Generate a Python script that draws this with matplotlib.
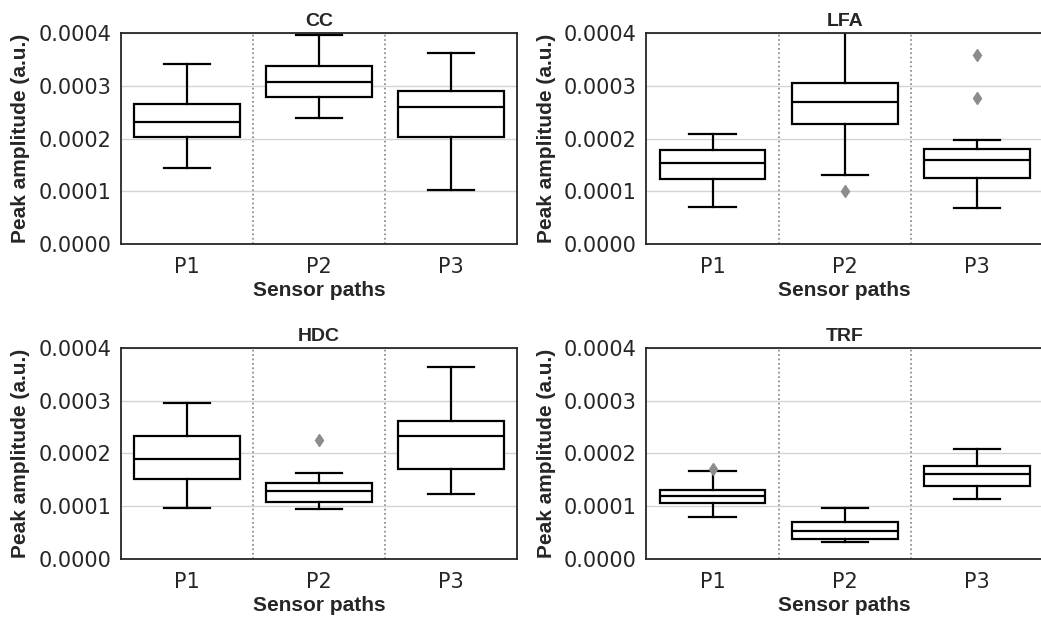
import matplotlib
matplotlib.use("Agg")
import matplotlib.pyplot as plt

paths = ["P1", "P2", "P3"]
panels = ["CC", "LFA", "HDC", "TRF"]

# per panel, per path: [whislo, q1, med, q3, whishi] (x 1e-4)
cc_stats = [[1.45, 2.03, 2.31, 2.65, 3.41],
            [2.38, 2.78, 3.08, 3.37, 3.97],
            [1.02, 2.02, 2.60, 2.91, 3.62]]
lfa_stats = [[0.71, 1.23, 1.53, 1.79, 2.09],
             [1.31, 2.27, 2.69, 3.06, 4.10],
             [0.68, 1.25, 1.59, 1.80, 1.97]]
hdc_stats = [[0.97, 1.52, 1.89, 2.34, 2.96],
             [0.94, 1.09, 1.29, 1.44, 1.63],
             [1.23, 1.71, 2.34, 2.62, 3.64]]
trf_stats = [[0.79, 1.07, 1.19, 1.30, 1.66],
             [0.33, 0.38, 0.53, 0.71, 0.97],
             [1.13, 1.38, 1.61, 1.77, 2.08]]

cc_fliers = [[], [], []]
lfa_fliers = [[], [1.01], [3.58, 2.76]]
hdc_fliers = [[], [2.26], []]
trf_fliers = [[1.71], [], []]

all_stats = [cc_stats, lfa_stats, hdc_stats, trf_stats]
all_fliers = [cc_fliers, lfa_fliers, hdc_fliers, trf_fliers]

plt.rcParams['font.family'] = ['DejaVu Sans']
fig = plt.figure(figsize=(10.41, 6.17), dpi=100)

lefts = [0.116, 0.621, 0.116, 0.621]
bottoms = [0.6045, 0.6045, 0.094, 0.094]
w, h = 0.381, 0.342
text_col = '#262626'
bold_font = dict(family='Liberation Sans', fontweight='bold', color=text_col)

for i, name in enumerate(panels):
    ax = fig.add_axes([lefts[i], bottoms[i], w, h])
    stats = []
    for j, s in enumerate(all_stats[i]):
        stats.append({
            'whislo': s[0] * 1e-4, 'q1': s[1] * 1e-4, 'med': s[2] * 1e-4,
            'q3': s[3] * 1e-4, 'whishi': s[4] * 1e-4,
            'fliers': [v * 1e-4 for v in all_fliers[i][j]],
        })
    lw = 1.6
    ax.bxp(stats, positions=[0, 1, 2], widths=0.8, capwidths=0.35,
           patch_artist=True,
           boxprops=dict(facecolor='white', edgecolor='black', linewidth=lw),
           medianprops=dict(color='black', linewidth=lw),
           whiskerprops=dict(color='black', linewidth=lw),
           capprops=dict(color='black', linewidth=lw),
           flierprops=dict(marker='d', markerfacecolor='#8c8c8c',
                           markeredgecolor='#8c8c8c', markersize=6.5))
    ax.set_xlim(-0.5, 2.5)
    ax.set_ylim(0, 0.0004)
    ax.set_yticks([0, 0.0001, 0.0002, 0.0003, 0.0004])
    ax.set_yticklabels(['0.0000', '0.0001', '0.0002', '0.0003', '0.0004'])
    ax.set_xticks([0, 1, 2])
    ax.set_xticklabels(paths)
    ax.tick_params(axis='y', labelsize=15, length=0, colors=text_col, pad=7)
    ax.tick_params(axis='x', labelsize=15, length=0, colors=text_col, pad=9)
    ax.yaxis.grid(True, color='#d4d4d4', linewidth=1)
    ax.set_axisbelow(True)
    for x in [0.5, 1.5]:
        ax.axvline(x, color='gray', linestyle=':', linewidth=1.2, zorder=0.5)
    for sp in ax.spines.values():
        sp.set_color(text_col)
        sp.set_linewidth(1.3)
    ax.set_title(name, fontsize=14, pad=5, **bold_font)
    ax.set_xlabel('Sensor paths', fontsize=15, labelpad=3, **bold_font)
    ax.set_ylabel('Peak amplitude (a.u.)', fontsize=15, labelpad=6, **bold_font)

fig.savefig('out.png', dpi=100)
